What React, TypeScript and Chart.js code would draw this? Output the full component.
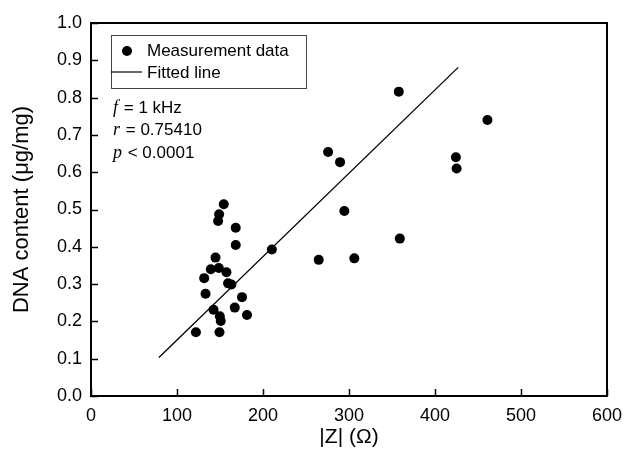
import React, { useEffect, useRef } from "react";
import { Chart, registerables } from "chart.js";

Chart.register(...registerables);

// Measurement data: |Z| (Ω) and DNA content (µg/mg)
const impedance = [
  154.4, 149.0, 147.8, 168.3, 168.3, 144.8, 139.3, 148.6, 157.5, 159.4,
  163.3, 131.6, 133.2, 175.6, 167.2, 142.5, 149.8, 150.9, 181.4, 122.0,
  149.4, 210.3, 264.8, 275.7, 289.6, 294.6, 306.2, 357.9, 359.1, 424.3,
  425.1, 461.0,
];
const dnaContent = [
  0.514, 0.487, 0.469, 0.451, 0.405, 0.371, 0.340, 0.343, 0.332, 0.302,
  0.299, 0.316, 0.274, 0.265, 0.237, 0.231, 0.214, 0.201, 0.217, 0.171,
  0.171, 0.393, 0.365, 0.654, 0.627, 0.496, 0.369, 0.816, 0.422, 0.640,
  0.610, 0.740,
];
// Fitted line end points
const fitX = [79, 427];
const fitY = [0.103, 0.881];

const xTicks = [0, 100, 200, 300, 400, 500, 600];
const yTicks = [0, 0.1, 0.2, 0.3, 0.4, 0.5, 0.6, 0.7, 0.8, 0.9, 1.0];

const legendLabels = ["Measurement data", "Fitted line"];
const statLines = [
  ["f", " = 1 kHz"],
  ["r", " = 0.75410"],
  ["p", " < 0.0001"],
];

const SANS = "'Liberation Sans', Arial, sans-serif";
const SERIF = "'Liberation Serif', 'Times New Roman', serif";

const decorPlugin = {
  id: "decor",
  afterDraw(chart: any) {
    const { ctx, chartArea } = chart;
    const { left, right, top, bottom } = chartArea;
    const xs = chart.scales.x;
    const ys = chart.scales.y;
    ctx.save();
    // frame
    ctx.strokeStyle = "#000";
    ctx.lineWidth = 2;
    ctx.strokeRect(left, top, right - left, bottom - top);
    // inward ticks
    ctx.lineWidth = 1.5;
    ctx.beginPath();
    xTicks.forEach((v) => {
      const px = Math.round(xs.getPixelForValue(v)) + 0.5;
      ctx.moveTo(px, bottom);
      ctx.lineTo(px, bottom - 7);
    });
    yTicks.forEach((v) => {
      const py = Math.round(ys.getPixelForValue(v)) + 0.5;
      ctx.moveTo(left, py);
      ctx.lineTo(left + 7, py);
    });
    ctx.stroke();

    // legend box
    ctx.lineWidth = 1;
    ctx.strokeStyle = "#444";
    ctx.strokeRect(111.5, 35.5, 195, 53);
    ctx.fillStyle = "#000";
    ctx.beginPath();
    ctx.arc(127, 51, 5, 0, Math.PI * 2);
    ctx.fill();
    ctx.strokeStyle = "#000";
    ctx.lineWidth = 1.2;
    ctx.beginPath();
    ctx.moveTo(111, 72);
    ctx.lineTo(142, 72);
    ctx.stroke();
    ctx.font = `17px ${SANS}`;
    ctx.textBaseline = "middle";
    ctx.textAlign = "left";
    ctx.fillText(legendLabels[0], 147, 51);
    ctx.fillText(legendLabels[1], 147, 73);

    // statistics text
    const ys0 = [108, 130, 153];
    statLines.forEach((ln, i) => {
      ctx.font = `italic 18px ${SERIF}`;
      ctx.fillText(ln[0], 113, ys0[i]);
      const w = ctx.measureText(ln[0]).width;
      ctx.font = `17px ${SANS}`;
      ctx.fillText(ln[1], 113 + w + 1, ys0[i]);
    });
    ctx.restore();
  },
};

export default function App() {
  const ref = useRef<HTMLCanvasElement>(null);
  useEffect(() => {
    document.body.style.margin = "0";
    const scatterData = impedance.map((x, i) => ({ x, y: dnaContent[i] }));
    const lineData = fitX.map((x, i) => ({ x, y: fitY[i] }));
    const chart = new Chart(ref.current as HTMLCanvasElement, {
      type: "scatter",
      data: {
        datasets: [
          {
            label: legendLabels[0],
            data: scatterData,
            backgroundColor: "#000",
            borderColor: "#000",
            pointRadius: 5,
            pointBorderWidth: 0,
          },
          {
            label: legendLabels[1],
            type: "line",
            data: lineData,
            borderColor: "#000",
            borderWidth: 1.3,
            pointRadius: 0,
            fill: false,
          } as any,
        ],
      },
      options: {
        animation: false,
        responsive: false,
        devicePixelRatio: 1,
        layout: { padding: { left: 0, right: 22, top: 23, bottom: 0 } },
        plugins: { legend: { display: false }, tooltip: { enabled: false } },
        scales: {
          x: {
            type: "linear",
            min: 0,
            max: 600,
            afterBuildTicks: (s: any) => {
              s.ticks = xTicks.map((v) => ({ value: v }));
            },
            afterFit: (s: any) => {
              s.height = 62;
            },
            grid: { display: false, drawTicks: false },
            border: { display: false },
            ticks: {
              color: "#000",
              font: { family: SANS, size: 18 },
              padding: 9,
              maxRotation: 0,
            },
            title: {
              display: true,
              text: "|Z| (Ω)",
              color: "#000",
              font: { family: SANS, size: 21 },
              padding: { top: 0, bottom: 8 },
            },
          },
          y: {
            type: "linear",
            min: 0,
            max: 1,
            afterBuildTicks: (s: any) => {
              s.ticks = yTicks.map((v) => ({ value: v }));
            },
            afterFit: (s: any) => {
              s.width = 91;
            },
            grid: { display: false, drawTicks: false },
            border: { display: false },
            ticks: {
              color: "#000",
              font: { family: SANS, size: 18 },
              padding: 9,
              callback: (v: any) => Number(v).toFixed(1),
            },
            title: {
              display: true,
              text: "DNA content (μg/mg)",
              color: "#000",
              font: { family: SANS, size: 22 },
              padding: { top: 9, bottom: 0 },
            },
          },
        },
      },
      plugins: [decorPlugin],
    });
    return () => chart.destroy();
  }, []);
  return (
    <div style={{ width: 631, height: 458 }}>
      <canvas ref={ref} width={631} height={458} style={{ display: "block" }} />
    </div>
  );
}
